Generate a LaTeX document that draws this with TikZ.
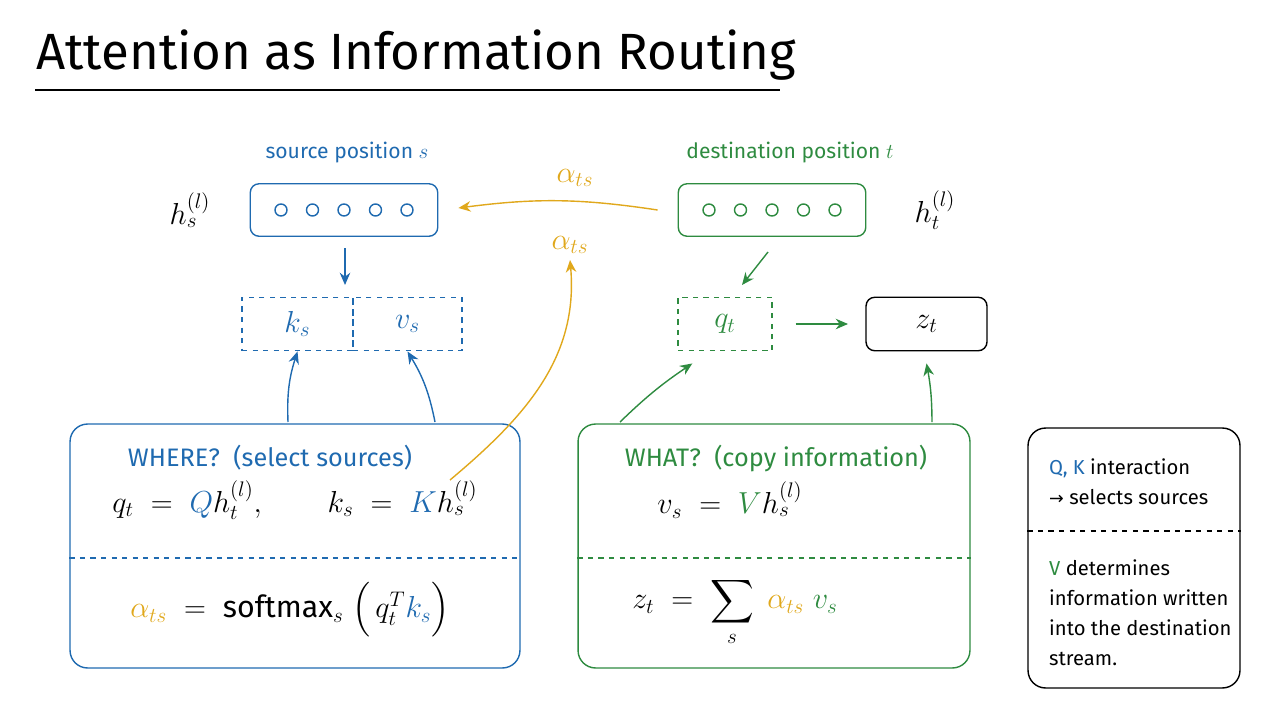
\documentclass[tikz,border=0pt]{standalone}
\usepackage{fontspec}
\setmainfont{Fira Sans}
\usepackage{amsmath}
\usetikzlibrary{positioning,calc,arrows.meta}
\definecolor{srcblue}{HTML}{1F6AB0}
\definecolor{dstgreen}{HTML}{2E8B40}
\definecolor{attgold}{HTML}{E0A81C}
\tikzstyle{arrow} = [thick,-{Stealth[length=7pt,width=6pt]}]
\tikzstyle{posbox} = [rectangle, rounded corners=5pt, thick, minimum width=3.75cm, minimum height=1.05cm]
\tikzstyle{vecbox} = [rectangle, dashed, thick, minimum height=1.07cm]
\tikzstyle{panel} = [rectangle, rounded corners=10pt, thick]
\tikzstyle{unit} = [circle, draw, thick, inner sep=0pt, minimum size=0.24cm]
\begin{document}
\begin{tikzpicture}[x=0.02cm,y=-0.02cm]
  \useasboundingbox (0,0) rectangle (1280,720);
  % title
  \node[anchor=west,font=\fontsize{29}{35}\selectfont] (title) at (30,55) {Attention as Information Routing};
  \draw[very thick] (35,90) -- (780,90);
  % positions
  \node[srcblue,font=\large] (srclabel) at (347,153) {source position $s$};
  \node[posbox,draw=srcblue] (src) at (344,210) {};
  \foreach \i in {0,...,4} \node[unit,srcblue] (su\i) at (281+31.5*\i,210) {};
  \node[font=\LARGE] (hs) at (190,210) {$h_s^{(l)}$};
  \node[dstgreen,font=\large] (dstlabel) at (790,153) {destination position $t$};
  \node[posbox,draw=dstgreen] (dst) at (772,210) {};
  \foreach \i in {0,...,4} \node[unit,dstgreen] (du\i) at (709+31.5*\i,210) {};
  \node[font=\LARGE] (ht) at (935,210) {$h_t^{(l)}$};
  % keys, values, query, output
  \node[vecbox,draw=srcblue,text=srcblue,minimum width=2.22cm,font=\LARGE] (ks) at (297.5,324) {$k_s$};
  \node[vecbox,draw=srcblue,text=srcblue,minimum width=2.18cm,font=\LARGE] (vs) at (407.5,324) {$v_s$};
  \node[vecbox,draw=dstgreen,text=dstgreen,minimum width=1.88cm,font=\LARGE] (qt) at (725,324) {$q_t$};
  \node[rectangle,rounded corners=5pt,thick,draw,minimum width=2.42cm,minimum height=1.07cm,font=\LARGE] (zt) at (926.5,324) {$z_t$};
  \coordinate (src_out) at (345,248);
  \draw[arrow,srcblue] (src_out) -- (345,285);
  \coordinate (dst_out) at (768,252);
  \draw[arrow,dstgreen] (dst_out) -- (742,285);
  \draw[arrow,dstgreen] (qt.east)++(23,0) coordinate (qt_r) -- (848,324);
  % attention arrows
  \node[attgold,font=\LARGE] (alpha1) at (575,178) {$\alpha_{ts}$};
  \draw[arrow,attgold] (dst.west)++(-20,0) coordinate (dst_l) to[bend right=8] ($(src.east)+(20,-2)$);
  \node[attgold,font=\LARGE] (alpha2) at (570,245) {$\alpha_{ts}$};
  % panels
  \node[panel,draw=srcblue,minimum width=9cm,minimum height=4.88cm] (where) at (295,546) {};
  \node[srcblue,font=\Large] (whereh) at (270,458) {WHERE?\ \ (select sources)};
  \node[font=\LARGE] (eq1) at (295,500) {$q_t\;=\;{\color{srcblue}Q}h_t^{(l)},\qquad k_s\;=\;{\color{srcblue}K}h_s^{(l)}$};
  \draw[srcblue,dashed,thick] (where.west|-0,558) -- (where.east|-0,558);
  \node[font=\LARGE] (eq2) at (290,610) {${\color{attgold}\alpha_{ts}}\;=\;\text{softmax}_s\;\Big(\,q_t^{T}{\color{srcblue}k_s}\Big)$};
  \node[panel,draw=dstgreen,minimum width=7.84cm,minimum height=4.88cm] (what) at (774,546) {};
  \node[dstgreen,font=\Large] (whath) at (776,458) {WHAT?\ \ (copy information)};
  \node[font=\LARGE] (eq3) at (730,500) {$v_s\;=\;{\color{dstgreen}V}h_s^{(l)}$};
  \draw[dstgreen,dashed,thick] (what.west|-0,558) -- (what.east|-0,558);
  \node[font=\LARGE] (eq4) at (735,612) {$z_t\;=\;\displaystyle\sum_s\;{\color{attgold}\alpha_{ts}}\;{\color{dstgreen}v_s}$};
  \draw[arrow,attgold] (450,480) to[out=40,in=-85] (alpha2.south);
  % panel arrows
  \draw[arrow,srcblue] (288,422) to[bend left=10] (ks.south);
  \draw[arrow,srcblue] (435,422) to[bend right=10] (vs.south);
  \draw[arrow,dstgreen] (620,422) to[bend left=5] ($(qt.south west)+(15,12)$);
  \draw[arrow,dstgreen] (932,422) to[bend right=5] ($(zt.south)+(0,12)$);
  % legend
  \node[panel,draw,minimum width=4.24cm,minimum height=5.2cm] (legend) at (1134,558) {};
  \node[anchor=west,align=left,font=\fontsize{11.5}{14}\selectfont] (leg1) at (1043,482) {{\color{srcblue}Q, K} interaction\\[3pt]\hspace{0pt}{\fontspec{DejaVu Sans}\normalsize →} selects sources};
  \draw[dashed,thick] (legend.west|-0,531) -- (legend.east|-0,531);
  \node[anchor=west,align=left,font=\fontsize{11.5}{14}\selectfont] (leg2) at (1043,613) {{\color{dstgreen}V} determines\\[3pt]information written\\[3pt]into the destination\\[3pt]stream.};
\end{tikzpicture}
\end{document}
